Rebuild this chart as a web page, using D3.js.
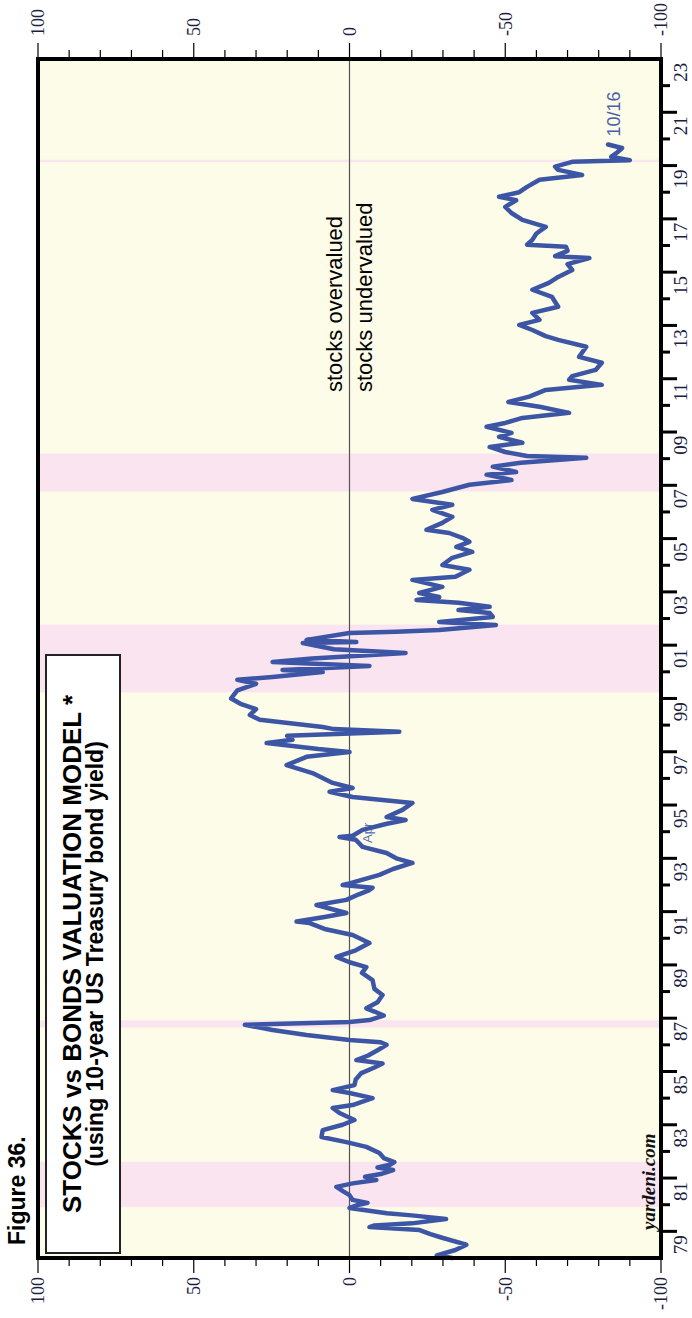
<!DOCTYPE html>
<html>
<head>
<meta charset="utf-8">
<script src="https://cdn.jsdelivr.net/npm/d3@7"></script>
<style>
html,body{margin:0;padding:0;background:#fff;}
svg{display:block;}
</style>
</head>
<body>
<div id="chart"></div>
<script>
// ---------- data ----------
const years = [
1979.00,1979.10,1979.30,1979.50,1979.75,1979.90,1980.05,1980.16,1980.22,1980.30,1980.46,1980.60,1980.68,1980.88,
1981.00,1981.07,1981.18,1981.36,1981.50,1981.67,1981.80,1981.93,1982.05,1982.15,1982.30,1982.40,1982.50,1982.60,1982.75,1982.94,
1983.17,1983.35,1983.54,1983.80,1984.00,1984.18,1984.44,1984.63,1984.74,1985.00,1985.19,1985.30,1985.49,1985.70,1985.94,
1986.15,1986.30,1986.43,1986.60,1986.80,1987.00,1987.10,1987.18,1987.37,1987.56,1987.75,1987.86,1987.93,
1988.10,1988.25,1988.37,1988.60,1988.87,1989.10,1989.43,1989.70,1989.92,1990.10,1990.30,1990.55,1990.82,
1991.12,1991.35,1991.57,1991.63,1991.80,1991.95,1992.25,1992.44,1992.65,1992.81,1992.90,1993.00,1993.06,
1993.38,1993.60,1993.83,1994.00,1994.20,1994.43,1994.70,1994.80,1994.85,1995.07,1995.30,1995.44,1995.55,1995.82,
1996.08,1996.30,1996.50,1996.64,1996.83,1997.20,1997.50,1997.81,1997.99,1998.10,1998.33,1998.45,1998.60,1998.75,1998.85,1998.93,
1999.20,1999.38,1999.60,1999.80,2000.00,2000.30,2000.55,2000.70,2000.81,2000.99,2001.07,2001.22,2001.37,2001.50,2001.71,2001.85,
2002.08,2002.12,2002.20,2002.46,2002.50,2002.57,2002.76,2002.87,2003.06,2003.21,2003.32,2003.44,2003.59,2003.70,2003.81,2003.96,
2004.19,2004.45,2004.57,2004.83,2005.01,2005.28,2005.50,2005.69,2005.88,2006.03,2006.21,2006.33,2006.59,2006.82,
2007.08,2007.27,2007.49,2007.75,2008.02,2008.20,2008.40,2008.50,2008.70,2008.85,2009.03,2009.10,2009.25,2009.44,2009.60,2009.82,2009.97,
2010.20,2010.34,2010.53,2010.72,2010.95,2011.13,2011.33,2011.58,2011.77,2011.96,2012.10,2012.33,2012.60,2012.82,
2013.20,2013.46,2013.60,2013.83,2014.02,2014.21,2014.47,2014.70,2015.07,2015.34,2015.60,2015.82,2016.08,2016.30,2016.53,2016.60,2016.80,2016.95,
2017.03,2017.21,2017.45,2017.70,2017.96,2018.22,2018.45,2018.70,2018.83,2019.00,2019.20,2019.47,2019.65,2019.84,2019.96,2020.14,2020.20,
2020.33,2020.50,2020.66,2020.79
];
const values = [
-33,-28,-34,-37.5,-30,-26,-22.5,-6.4,-8,-20,-31,-20,-12,0,
-3,-5.8,-1,0,2,4.2,-1,-8.6,-5,-10,-14,-9,-13,-14.4,-11,-9.6,
-5.4,1,9,8.6,2.2,-1.6,3.2,5.4,-1,-7.4,0,5.4,-1.6,-2,-3.8,
-8,-10.6,-2.2,-6,-9,-11.9,-10,0,13.8,24.7,33.6,0,-6.4,
-11,-8,-5.4,-9,-10.6,-8,-7.4,-4,-5.4,0,4.2,-2,-6.4,
-1,8,12.8,17,8,1,10.6,1,-3,-6.4,-7.4,2.2,0,
-9.6,-14,-20.2,-15,-11.9,-4.2,-2,3.2,-1,-4.2,-12,-18,-11.9,-17,
-20.2,-1,6.4,-1,5.4,11.9,20.2,13.8,0,10,26.6,18.3,20,-16,5,8.6,
28.8,32,30,35,38,36,30,36,24.7,8.6,21.5,-6.4,24.7,12,-18,5,
15,-2.2,13.8,0,-15,-28.8,-47,-28.8,-46,-45,-35,-45,-35,-21.5,-28.8,-22.4,
-29.8,-20.2,-34,-38.5,-29.8,-33,-39.4,-34.3,-38.5,-36.2,-32,-24.7,-29.8,-33,
-26.6,-33,-20.2,-29.8,-38.5,-52,-44,-53.5,-46,-55,-76,-57,-50,-45,-55.5,-48,-52,
-44,-50,-55.5,-70.5,-61,-51,-57.7,-63,-81,-70.5,-71.5,-79,-81,-73.7,
-76,-67,-63,-58.7,-54.5,-61,-58.7,-67,-65,-58.7,-64,-67,-71.5,-70,-77,-66,-70,-69.5,
-57,-58.7,-60,-63,-55.5,-52,-50,-53.5,-48,-54.5,-57,-61,-74.7,-67,-66,-71.5,-90,
-84,-86,-87.5,-83
];
// bear-market shading (decimal years)
const bandStart = [1980.91, 1987.65, 2000.23, 2007.77, 2020.13];
const bandEnd   = [1982.61, 1987.92, 2002.77, 2009.19, 2020.22];
// axis ticks
const valueTicks = d3.range(-100, 101, 10);
const valueLabels = [100, 50, 0, -50, -100];
const yearTicks = d3.range(1979, 2025, 1);
const yearLabels = ["79","81","83","85","87","89","91","93","95","97","99","01","03","05","07","09","11","13","15","17","19","21","23"];
const titleLine1 = "STOCKS vs BONDS VALUATION MODEL *";
const titleLine2 = "(using 10-year US Treasury bond yield)";
const figureLabel = "Figure 36.";
const lastDateLabel = "10/16";

// ---------- layout (landscape, then rotated) ----------
const PW = 692, PH = 1318;       // page
const x0 = 60, x1 = 1259, yTop = 38, yBot = 661;

const x = d3.scaleLinear().domain([1979, 2024]).range([x0, x1]);
const y = d3.scaleLinear().domain([-100, 100]).range([yBot, yTop]);

const svg = d3.select("#chart").append("svg")
  .attr("width", PW).attr("height", PH);
svg.append("rect").attr("width", PW).attr("height", PH).attr("fill", "#fff");

const g = svg.append("g").attr("transform", `translate(0,${PH}) rotate(-90)`);

const SERIF = "'Liberation Serif','Times New Roman',serif";
const SANS = "'Liberation Sans',Arial,sans-serif";

// plot background
g.append("rect").attr("x", x0).attr("y", yTop).attr("width", x1 - x0).attr("height", yBot - yTop)
  .attr("fill", "#fdfce8");

// bands
g.selectAll("rect.band").data(bandStart).join("rect").attr("class", "band")
  .attr("x", (d) => x(d)).attr("width", (d, i) => Math.max(2, x(bandEnd[i]) - x(d)))
  .attr("y", yTop).attr("height", yBot - yTop).attr("fill", "#f9e4f0");

// zero line
g.append("line").attr("x1", x0).attr("x2", x1).attr("y1", y(0)).attr("y2", y(0))
  .attr("stroke", "#555").attr("stroke-width", 1.2);

// title box
g.append("rect").attr("x", 65).attr("y", 46).attr("width", 598).attr("height", 74)
  .attr("fill", "#fff").attr("stroke", "#222").attr("stroke-width", 2);
g.append("text").attr("x", 364).attr("y", 81).attr("text-anchor", "middle")
  .attr("font-family", SANS).attr("font-weight", "bold").attr("font-size", 26).attr("fill", "#000")
  .text(titleLine1);
g.append("text").attr("x", 364).attr("y", 103).attr("text-anchor", "middle")
  .attr("font-family", SANS).attr("font-weight", "bold").attr("font-size", 23).attr("fill", "#000")
  .text(titleLine2);

// annotations
g.append("text").attr("x", 926).attr("y", 342).attr("font-family", SANS).attr("font-size", 22)
  .attr("fill", "#000").text("stocks overvalued");
g.append("text").attr("x", 926).attr("y", 372).attr("font-family", SANS).attr("font-size", 22)
  .attr("fill", "#000").text("stocks undervalued");
g.append("text").attr("x", 475).attr("y", 372).attr("font-family", SANS).attr("font-size", 13)
  .attr("fill", "#5a6fb5").text("Apr");
g.append("text").attr("x", 88).attr("y", 655).attr("font-family", SERIF).attr("font-style", "italic")
  .attr("font-weight", "bold").attr("font-size", 19).attr("fill", "#111").text("yardeni.com");

// data line
const line = d3.line().x((d, i) => x(years[i])).y((d) => y(d));
g.append("path").datum(values).attr("d", line).attr("fill", "none")
  .attr("stroke", "#3c55a5").attr("stroke-width", 4.5).attr("stroke-linejoin", "round").attr("stroke-linecap", "round");

// last date label
g.append("text").attr("x", x(years[years.length - 1]) + 8).attr("y", 620)
  .attr("font-family", SANS).attr("font-size", 18).attr("fill", "#4a5fa8").text(lastDateLabel);

// frame
g.append("rect").attr("x", x0).attr("y", yTop).attr("width", x1 - x0).attr("height", yBot - yTop)
  .attr("fill", "none").attr("stroke", "#000").attr("stroke-width", 4);

// value axis ticks (left and right of landscape)
valueTicks.forEach((v) => {
  const major = v % 50 === 0;
  g.append("line").attr("x1", x0 - 1).attr("x2", x0 - (major ? 15 : 8)).attr("y1", y(v)).attr("y2", y(v))
    .attr("stroke", "#000").attr("stroke-width", 1.2);
  g.append("line").attr("x1", x1 + 1).attr("x2", x1 + (major ? 16 : 9)).attr("y1", y(v)).attr("y2", y(v))
    .attr("stroke", "#000").attr("stroke-width", 1.2);
});
valueLabels.forEach((v) => {
  g.append("text").attr("x", 41).attr("y", y(v)).attr("dy", "0.35em").attr("text-anchor", "end")
    .attr("font-family", SERIF).attr("font-size", 18).attr("fill", "#1a2040").text(String(v));
  g.append("text").attr("x", 1282).attr("y", y(v)).attr("dy", "0.35em").attr("text-anchor", "start")
    .attr("font-family", SERIF).attr("font-size", 18).attr("fill", "#1a2040").text(String(v));
});

// time axis ticks (bottom of landscape)
yearTicks.forEach((yr) => {
  if (yr === 1979 || yr === 2024) return;
  const long = yr % 2 === 0;
  g.append("line").attr("x1", x(yr)).attr("x2", x(yr)).attr("y1", yBot).attr("y2", yBot + (long ? 16 : 9))
    .attr("stroke", "#000").attr("stroke-width", 3);
});
yearLabels.forEach((lab, i) => {
  const yr = 1979 + 2 * i;
  g.append("text").attr("x", x(yr + 0.5)).attr("y", 687).attr("text-anchor", "middle")
    .attr("font-family", SERIF).attr("font-size", 19).attr("fill", "#1a2040").text(lab);
});

// figure label
g.append("text").attr("x", 73).attr("y", 25).attr("font-family", SANS).attr("font-weight", "bold")
  .attr("font-size", 23).attr("fill", "#000").text(figureLabel);
</script>
</body>
</html>
